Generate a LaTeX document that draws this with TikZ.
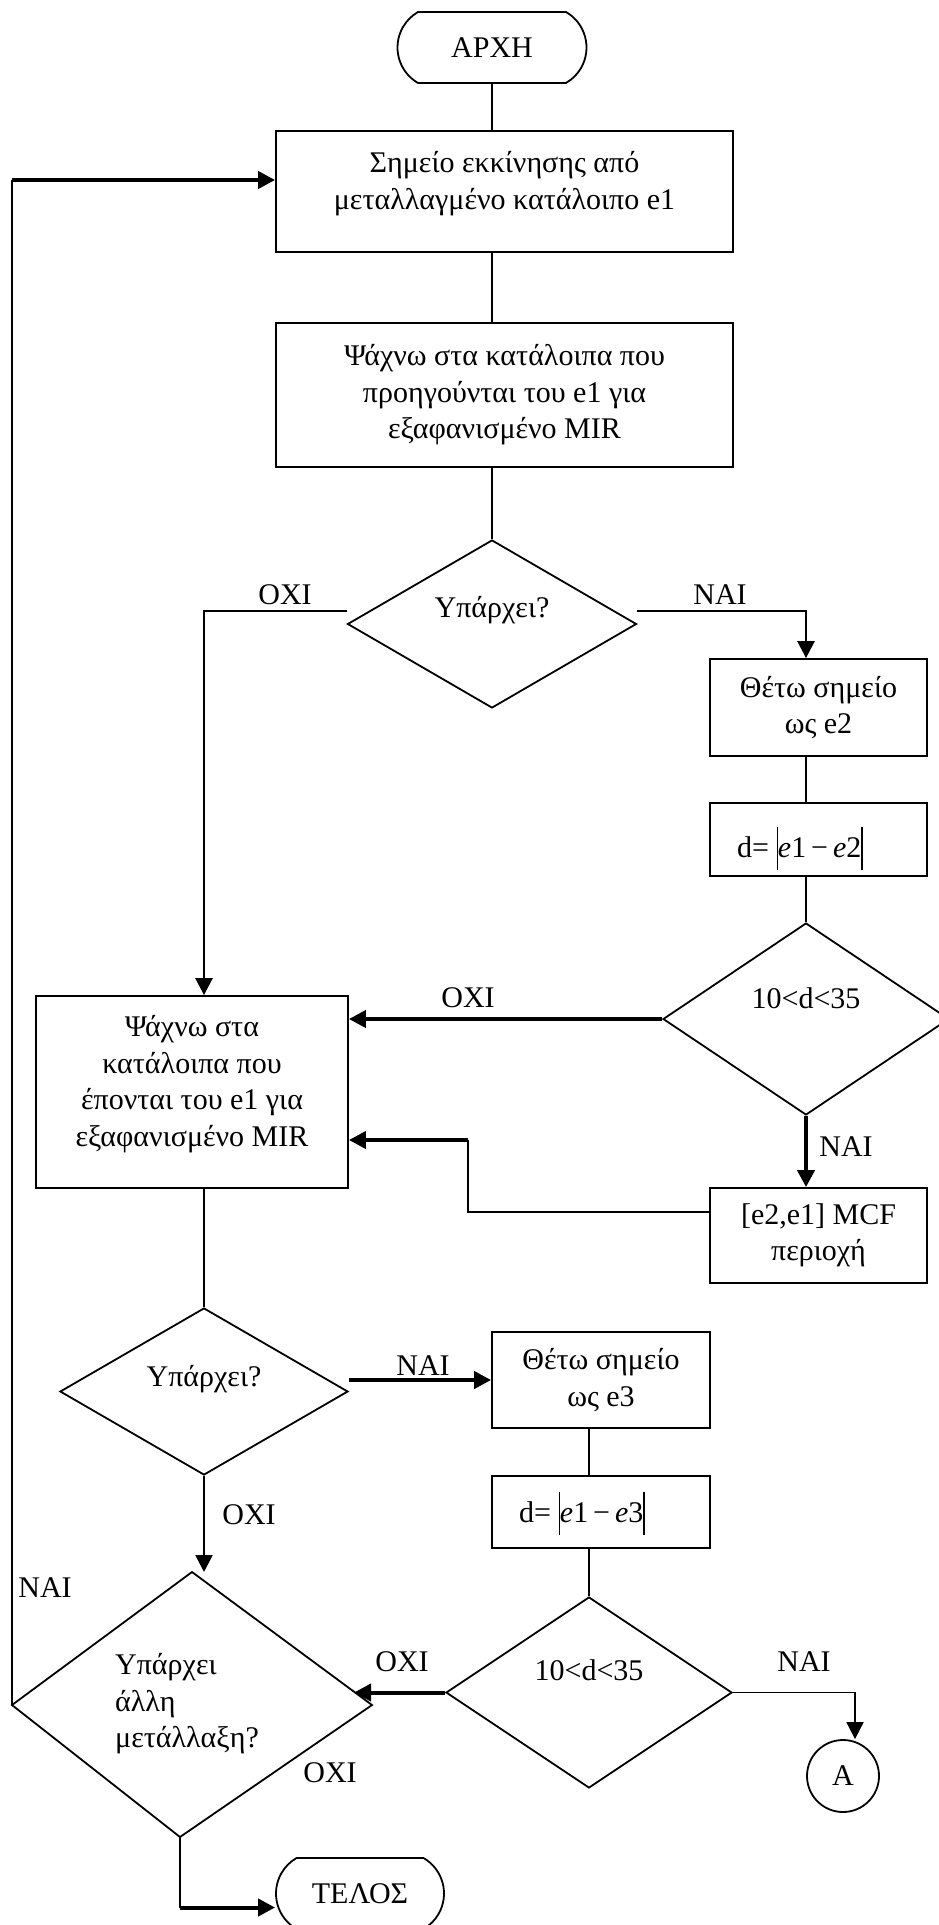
\documentclass[tikz,border=0pt]{standalone}
\usepackage{fontspec}
\setmainfont{Liberation Serif}
\usetikzlibrary{arrows.meta,shapes.geometric,shapes.misc}
% tall absolute-value bar for the distance formulas
\newcommand{\tallbar}{\rule[-6.5pt]{0.7pt}{21.5pt}}

\begin{document}
\begin{tikzpicture}[x=0.5pt,y=-0.5pt,
  every node/.style={font=\fontsize{15pt}{18.25pt}\selectfont},
  wire/.style={line width=0.9pt},
  mid/.style={line width=1.3pt},
  heavy/.style={line width=2pt},
  arrowed/.style={-{Triangle[length=8.5pt,width=8.5pt]}},
  box/.style={draw,line width=0.9pt,align=center,inner sep=0pt},
  decision/.style={draw,diamond,line width=0.9pt,inner sep=0pt},
  terminal/.style={draw,rounded rectangle,rounded rectangle arc length=120,line width=0.9pt,inner sep=0pt},
  tag/.style={inner sep=0pt}]
\useasboundingbox (0,0) rectangle (938,1925);

% start / end
\node[terminal,minimum width=94.5pt,minimum height=35.5pt] (start) at (492,47.5) {ΑΡΧΗ};
\node[terminal,minimum width=84pt,minimum height=35.5pt] (stop) at (360,1893.5) {ΤΕΛΟΣ};

% process steps
\node[box,minimum width=228.5pt,minimum height=60.5pt,
  label={[align=center,yshift=4pt]center:Σημείο εκκίνησης από\\μεταλλαγμένο κατάλοιπο e1}] (b1) at (504.5,191.5) {};
\node[box,minimum width=228.5pt,minimum height=72pt] (b2) at (504.5,395)
  {Ψάχνω στα κατάλοιπα που\\προηγούνται του e1 για\\εξαφανισμένο MIR};
\node[box,minimum width=108.5pt,minimum height=48.5pt] (e2) at (818.5,707.5) {Θέτω σημείο\\ως e2};
\node[box,minimum width=108.5pt,minimum height=36.5pt,
  label={[xshift=-9.25pt,yshift=-4.5pt]center:d=~\tallbar{\itshape e}1\,−\,{\itshape e}2\tallbar}] (d2) at (818.5,839.5) {};
\node[box,minimum width=108.5pt,minimum height=47.5pt] (mcf) at (818.5,1235.5) {[e2,e1] MCF\\περιοχή};
\node[box,minimum width=156pt,minimum height=96pt,
  label={[align=center,yshift=4pt]center:Ψάχνω στα\\κατάλοιπα που\\έπονται του e1 για\\εξαφανισμένο MIR}] (b3) at (192,1092) {};
\node[box,minimum width=109pt,minimum height=48pt] (e3) at (601,1380) {Θέτω σημείο\\ως e3};
\node[box,minimum width=109pt,minimum height=36pt,
  label={[xshift=-9.5pt,yshift=-0.75pt]center:d=~\tallbar{\itshape e}1\,−\,{\itshape e}3\tallbar}] (d3) at (601,1512) {};

% decisions
\node[decision,minimum width=144.5pt,minimum height=84pt,label={[yshift=7pt]center:Υπάρχει?}] (D1) at (492,624) {};
\node[decision,minimum width=143pt,minimum height=96pt,label={[yshift=10.5pt]center:10<d<35}] (D2) at (806,1019) {};
\node[decision,minimum width=144pt,minimum height=83.5pt,label={[yshift=6pt]center:Υπάρχει?}] (D3) at (204,1391.5) {};
\node[decision,minimum width=143pt,minimum height=95.5pt,label={[yshift=11pt]center:10<d<35}] (D4) at (589,1692.5) {};

% last decision, slightly skewed
\coordinate (d5t) at (192,1572);
\coordinate (d5r) at (372,1705);
\coordinate (d5b) at (180,1837);
\coordinate (d5l) at (12,1705);
\coordinate (d5in) at (354,1692.5);
\draw[wire] (d5t) -- (d5r) -- (d5b) -- (d5l) -- cycle;
\node[align=left,inner sep=0pt] (q5) at (187,1704) {Υπάρχει\\άλλη\\μετάλλαξη?};

% off-page connector
\node[draw,circle,line width=0.9pt,minimum size=36pt,inner sep=0pt] (A) at (843,1776) {A};

% main spine
\draw[wire] (start.south) -- (start.south |- b1.north);
\draw[wire] (start.south |- b1.south) -- (start.south |- b2.north);
\draw[wire] (start.south |- b2.south) -- (D1.north);

% first decision
\draw[mid,arrowed] ([yshift=6.5pt]D1.west) -| (D3.north |- b3.north);
\draw[mid,arrowed] ([yshift=6.5pt]D1.east) -| (D2.north |- e2.north);
\draw[wire] (D2.north |- e2.south) -- (D2.north |- d2.north);
\draw[wire] (D2.north |- d2.south) -- (D2.north);

% distance check after e2
\draw[heavy,arrowed] (D2.west) -- (D2.west -| b3.east);
\draw[heavy,arrowed] (D2.south) -- (D2.south |- mcf.north);
\coordinate (back) at (468,1140);
\draw[wire] ([yshift=11.75pt]mcf.west) -| (back);
\draw[heavy,arrowed] (back) -- (back -| b3.east);

% second search
\draw[wire] (D3.north |- b3.south) -- (D3.north);
\draw[heavy,arrowed] (e3.west -| D3.east) -- (e3.west);
\draw[wire] (D4.north |- e3.south) -- (D4.north |- d3.north);
\draw[wire] (D4.north |- d3.south) -- (D4.north);
\draw[heavy,arrowed] (D4.west) -- (d5in);
\draw[wire,arrowed] (D4.east) -| ([xshift=6pt]A.north);
\draw[mid,arrowed] (D3.south) -- (D3.south |- d5t);

% loop back and end
\coordinate (b1in) at ([yshift=5.75pt]b1.west);
\draw[wire] (d5l) -- (d5l |- b1in);
\draw[heavy,arrowed] (d5l |- b1in) -- (b1in);
\coordinate (stopin) at ([yshift=-7pt]stop.west);
\draw[wire] (d5b) -- (d5b |- stopin);
\draw[heavy,arrowed] (d5b |- stopin) -- (stopin);

% branch labels
\node[tag] (n1) at (285,595) {ΟΧΙ};
\node[tag] (y1) at (720,595) {ΝΑΙ};
\node[tag] (n2) at (468,998) {ΟΧΙ};
\node[tag] (y2) at (846,1147) {ΝΑΙ};
\node[tag] (y3) at (423,1366) {ΝΑΙ};
\node[tag] (n3) at (249,1515) {ΟΧΙ};
\node[tag] (y5) at (45,1588) {ΝΑΙ};
\node[tag] (n4) at (402,1662) {ΟΧΙ};
\node[tag] (y4) at (804,1662) {ΝΑΙ};
\node[tag] (n5) at (330,1773) {ΟΧΙ};
\end{tikzpicture}
\end{document}
